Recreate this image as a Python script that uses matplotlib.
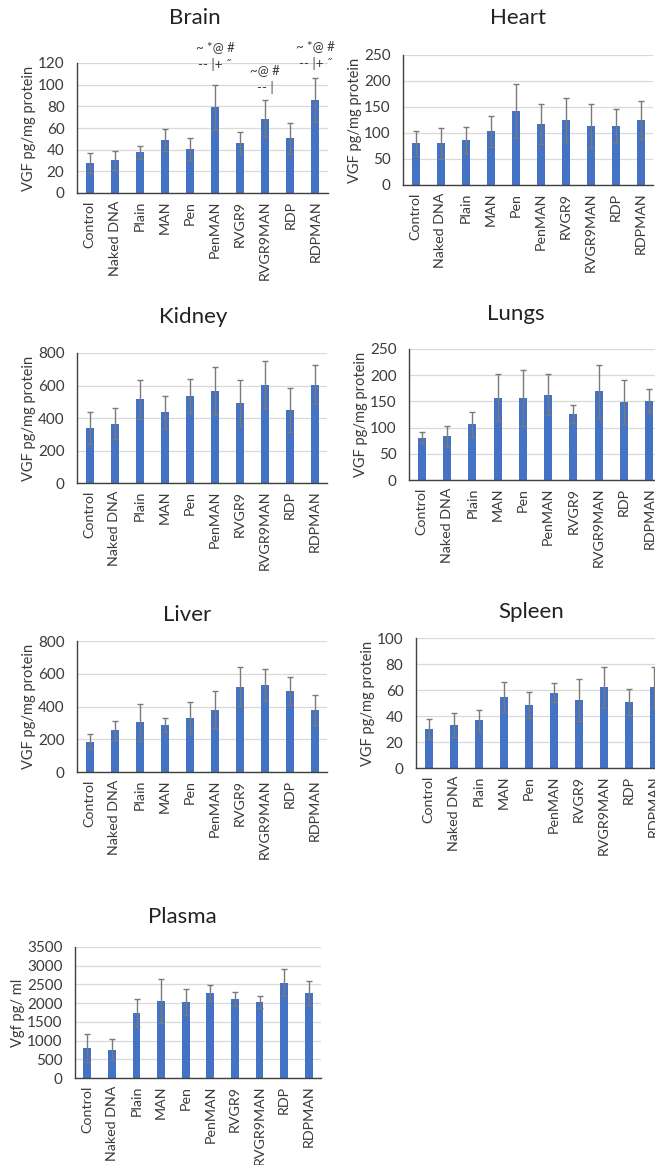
import matplotlib
matplotlib.use("Agg")
import matplotlib.pyplot as plt

plt.rcParams['font.family'] = ['Lato', 'DejaVu Sans']

W, H = 655, 1165

groups = ["Control", "Naked DNA", "Plain", "MAN", "Pen", "PenMAN",
          "RVGR9", "RVGR9MAN", "RDP", "RDPMAN"]

# mean values and error bar tops
brain = [27.7, 30.2, 37.5, 49, 40.3, 79, 46, 68.6, 50.5, 85.8]
brain_top = [36.9, 39, 43.4, 59, 50.5, 99.7, 56, 85.8, 64.6, 106.5]

heart = [80, 80, 86.5, 103, 141.7, 117, 125, 114, 113, 125]
heart_top = [104.5, 109.6, 112, 132, 193.6, 156, 168, 156, 145.5, 161]

kidney = [337, 365, 514, 435, 535, 567, 492, 604, 449, 604]
kidney_top = [437, 459, 635, 535, 641, 714, 631, 749, 584, 724]

lungs = [81, 83.5, 106, 157, 157, 163, 126, 169, 149, 151]
lungs_top = [92, 104, 130, 202, 210, 202, 143, 220, 191, 173]

liver = [186, 255, 304, 286, 329, 380, 522, 529, 494, 378]
liver_top = [233, 312, 418, 327, 427, 492, 643, 627, 578, 469]

spleen = [30, 33.4, 36.7, 54.8, 48.7, 58, 52.5, 62, 51, 62]
spleen_top = [38, 42.6, 45, 66.3, 58.7, 65.6, 68.6, 77.8, 61, 77.8]

plasma = [801, 757, 1736, 2057, 2030, 2262, 2110, 2030, 2547, 2262]
plasma_top = [1184, 1042, 2110, 2654, 2369, 2475, 2297, 2199, 2903, 2582]

# significance marks in the brain panel (group, text, level in data units)
mark_groups = ["PenMAN", "RVGR9MAN", "RDPMAN"]
mark_texts = ["~ *@ #\n-- |+ \u02dd", "~@ #\n-- |", "~ *@ #\n-- |+ \u02dd"]
mark_levels = [126, 105, 127.5]

BAR = '#4472C4'
ERR = '#7a7a7a'
GRID = '#d9d9d9'
TXT = '#3b3b3b'


def box(left, right, top, bottom):
    # pixel box -> figure fraction
    return [left / W, 1 - bottom / H, (right - left) / W, (bottom - top) / H]


def panel(fig, rect, title, title_xy, values, tops, ymax, step, ylabel):
    ax = fig.add_axes(rect)
    x = list(range(len(groups)))
    err = [t - v for v, t in zip(values, tops)]
    ax.bar(x, values, width=0.32, color=BAR, zorder=2)
    ax.errorbar(x, values, yerr=err, fmt='none', ecolor=ERR, elinewidth=1,
                capsize=2.5, capthick=1, zorder=3)
    ax.set_xlim(-0.5, len(groups) - 0.5)
    ax.set_ylim(0, ymax)
    ax.set_yticks(range(0, ymax + 1, step))
    ax.set_xticks(x)
    ax.set_xticklabels(groups, rotation=90, fontsize=10.3, color=TXT)
    ax.tick_params(axis='y', labelsize=11, colors=TXT, length=0, pad=9)
    ax.tick_params(axis='x', length=0, pad=5.5)
    ax.yaxis.grid(True, color=GRID, lw=0.9, zorder=0)
    ax.set_axisbelow(True)
    for s in ['top', 'right']:
        ax.spines[s].set_visible(False)
    for s in ['left', 'bottom']:
        ax.spines[s].set_color('#404040')
        ax.spines[s].set_linewidth(1)
    ax.set_ylabel(ylabel, fontsize=10.5, color=TXT, labelpad=1.5)
    fig.text(title_xy[0] / W, 1 - title_xy[1] / H, title, fontsize=16,
             color='#222222', ha='center', va='center')
    return ax


def main():
    fig = plt.figure(figsize=(W / 100, H / 100), dpi=100)
    fig.patch.set_facecolor('white')

    ax = panel(fig, box(77, 328, 63, 193), "Brain", (195, 18), brain, brain_top,
               120, 20, "VGF pg/mg protein")
    for name, txt, lvl in zip(mark_groups, mark_texts, mark_levels):
        ax.text(groups.index(name), lvl, txt, ha='center', va='center',
                multialignment='center', fontsize=9.5, color=TXT,
                linespacing=1.45, clip_on=False)

    panel(fig, box(403, 653, 55, 185), "Heart", (518, 18), heart, heart_top,
          250, 50, "VGF pg/mg protein")
    panel(fig, box(77, 327, 353, 483), "Kidney", (193, 317), kidney, kidney_top,
          800, 200, "VGF pg/mg protein")
    panel(fig, box(409, 662, 349, 480), "Lungs", (516, 314), lungs, lungs_top,
          250, 50, "VGF pg/mg protein")
    panel(fig, box(77, 327, 641, 772), "Liver", (187, 615), liver, liver_top,
          800, 200, "VGF pg/mg protein")
    panel(fig, box(416, 666, 638, 768), "Spleen", (531, 612), spleen, spleen_top,
          100, 20, "VGF pg/mg protein")
    panel(fig, box(75, 321, 947, 1078), "Plasma", (182, 917), plasma, plasma_top,
          3500, 500, "Vgf pg/ ml")

    fig.savefig("out.png", dpi=100, facecolor='white')
    print('Done')


if __name__ == '__main__':
    main()
